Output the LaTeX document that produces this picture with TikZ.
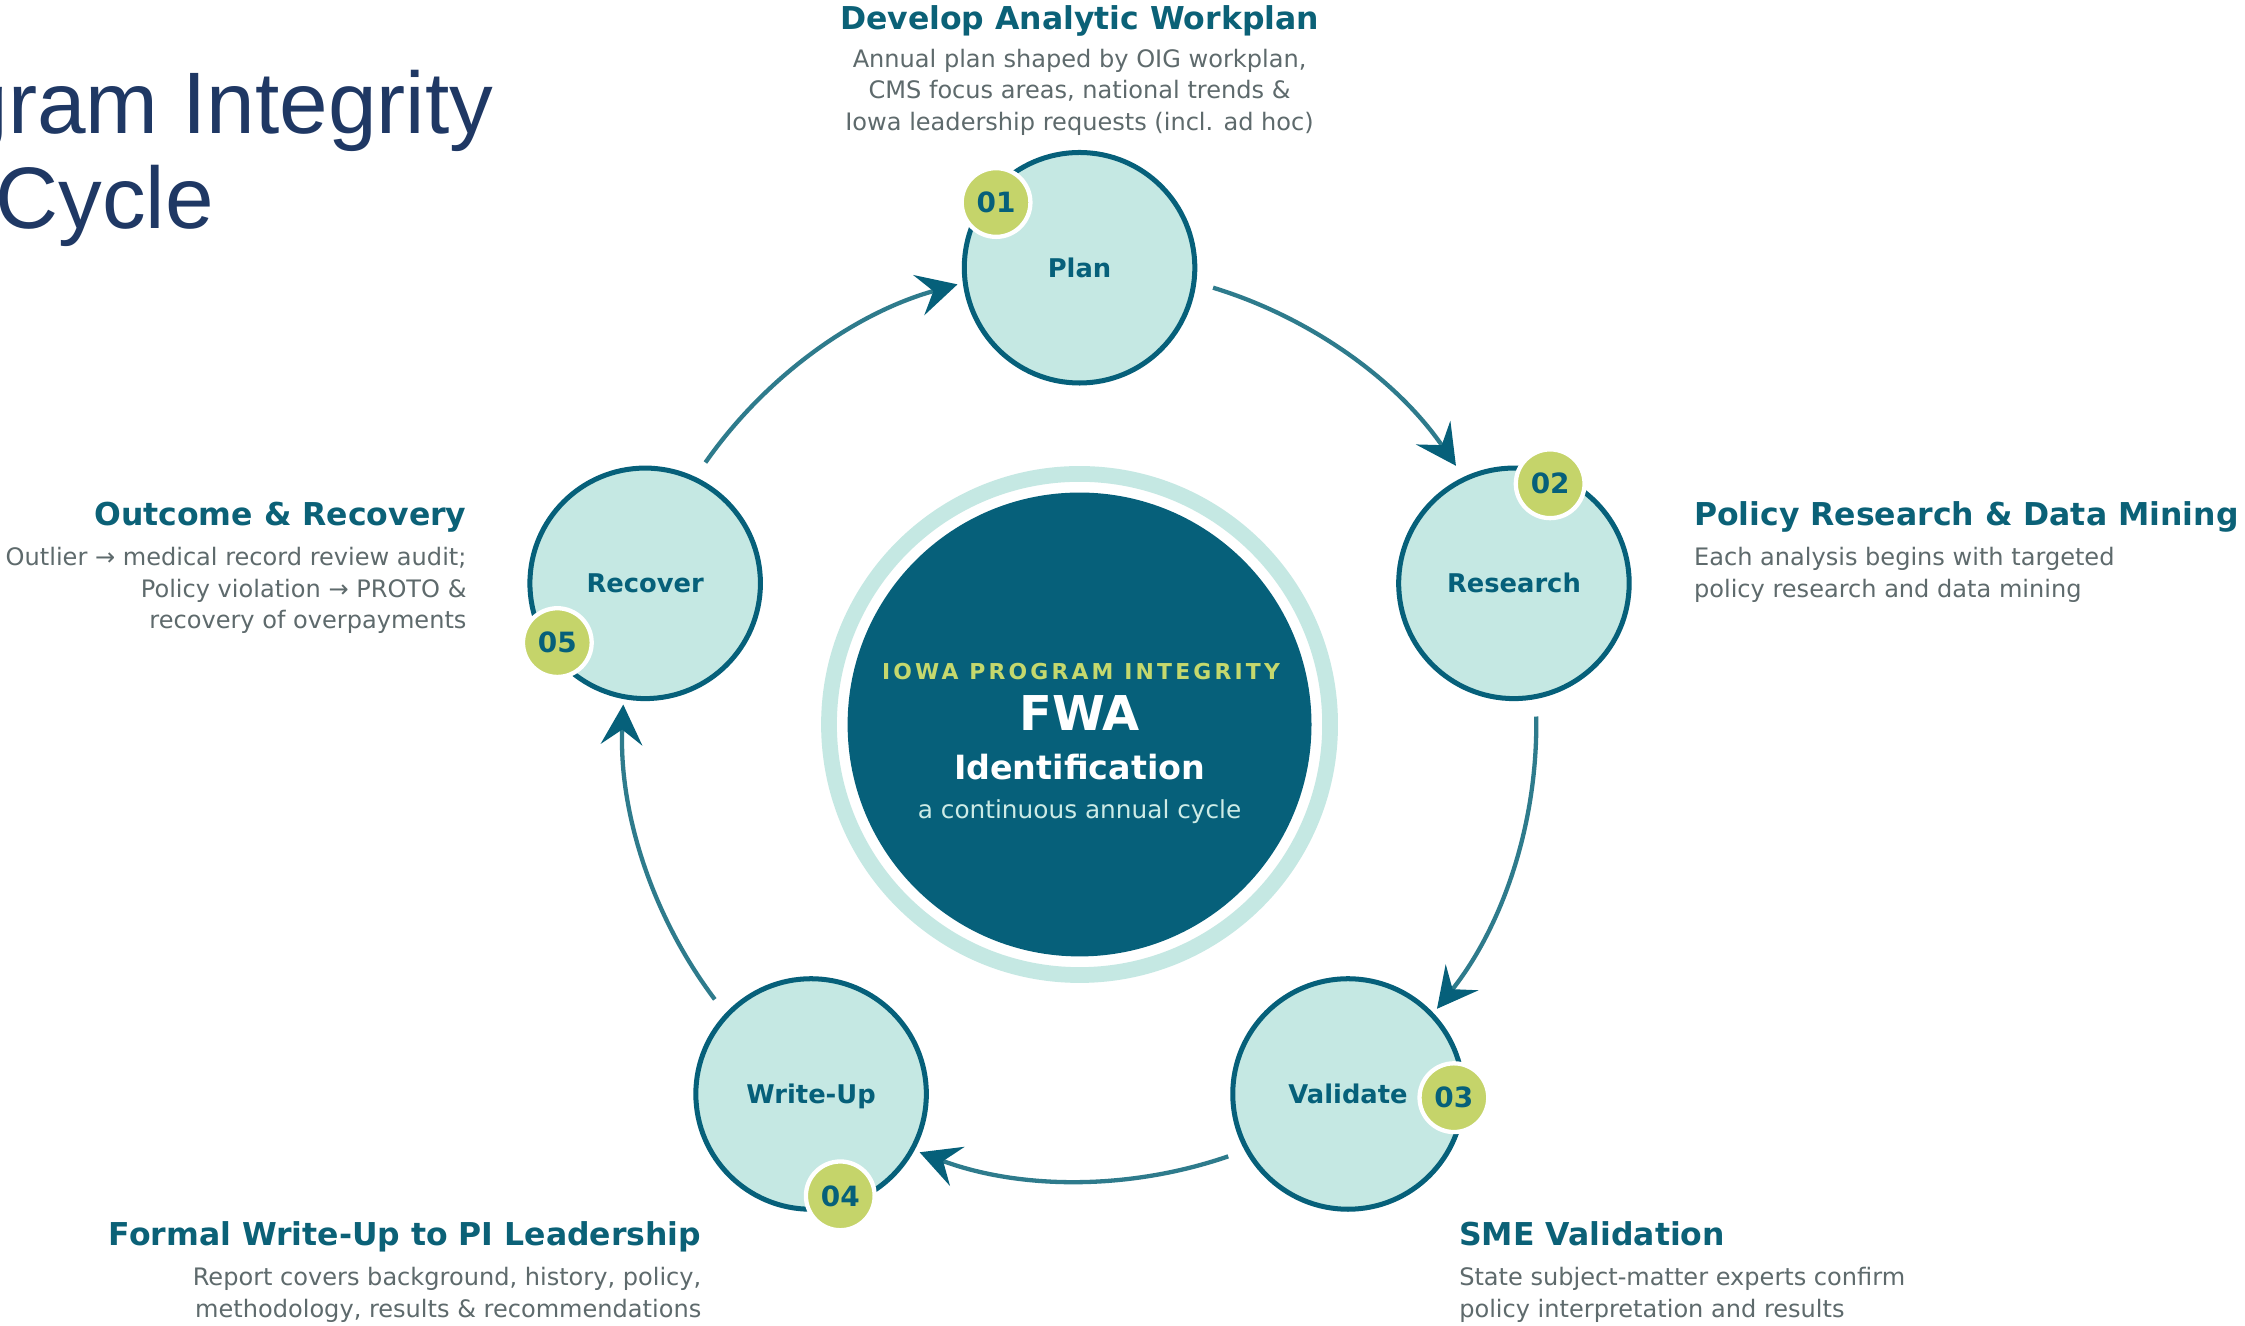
\documentclass[tikz,border=0pt]{standalone}
\usepackage{fontspec}
\setmainfont{DejaVu Sans}
\newfontfamily\titlefont{Liberation Sans}
\usetikzlibrary{arrows.meta,calc}
\definecolor{dteal}{HTML}{06607A}
\definecolor{lteal}{HTML}{C5E8E3}
\definecolor{arcc}{HTML}{2E7B8C}
\definecolor{badgec}{HTML}{C5D46A}
\definecolor{headc}{HTML}{0B6177}
\definecolor{descc}{HTML}{5E6A6C}
\definecolor{navy}{HTML}{1F3864}
\definecolor{subc}{HTML}{CDEBE6}
\definecolor{iowac}{HTML}{C5D86D}
\begin{document}
\begin{tikzpicture}[x=1pt,y=1pt,
  stage/.style={circle, draw=dteal, line width=3.5pt, fill=lteal, minimum size=161pt, inner sep=0pt, text=dteal,
    font=\bfseries\fontsize{18}{18}\selectfont, text height=13.1pt, text depth=0pt},
  badge/.style={circle, draw=white, line width=3pt, fill=badgec, minimum size=48pt, inner sep=0pt, text=dteal,
    font=\bfseries\fontsize{19.5}{19.5}\selectfont, text height=14.2pt, text depth=0pt},
  cyc/.style={draw=arcc, line width=3pt, -{Stealth[length=28pt, width=29pt, inset=10.5pt, color=dteal]}},
  head/.style={text=headc, font=\bfseries\fontsize{22}{26}\selectfont, inner sep=0pt},
  desc/.style={text=descc, font=\fontsize{16.8}{22}\selectfont, inner sep=0pt},
  ctext/.style={inner sep=0pt, anchor=base},
]
\useasboundingbox (0,0) rectangle (1568,-926);
\fill[white] (0,0) rectangle (1568,-926);

% title (cut by the left edge)
\begin{scope}
\clip (0,0) rectangle (1568,-926);
\node[anchor=base west, inner sep=0pt, text=navy, font=\titlefont\fontsize{61}{61}\selectfont] (title1) at (-28.5,-93) {gram Integrity};
\node[anchor=base west, inner sep=0pt, text=navy, font=\titlefont\fontsize{61}{61}\selectfont] (title2) at (-3.5,-159.5) {Cycle};
\end{scope}

% hub
\coordinate (O) at (754,-506);
\node[circle, draw=lteal, line width=11pt, minimum size=350pt, inner sep=0pt] (ring) at (O) {};
\node[circle, fill=dteal, minimum size=324pt, inner sep=0pt] (hub) at (O) {};
\node[ctext, text=iowac, font=\bfseries\fontsize{15.3}{15.3}\selectfont\addfontfeatures{LetterSpace=14.5}] (t1) at (755,-474.5) {IOWA PROGRAM INTEGRITY};
\node[ctext, text=white, font=\bfseries\fontsize{33.5}{33.5}\selectfont] (t2) at (754,-510) {FWA};
\node[ctext, text=white, font=\bfseries\fontsize{23.3}{23.3}\selectfont] (t3) at (754,-544.5) {Identification};
\node[ctext, text=subc, font=\fontsize{17.3}{17.3}\selectfont] (t4) at (754,-572) {a continuous annual cycle};

% cycle arcs
\coordinate (s1) at ($(O)+(73:319)$);
\coordinate (s2) at ($(O)+(1:319)$);
\coordinate (s3) at ($(O)+(-71:319)$);
\coordinate (s4) at ($(O)+(-143:319)$);
\coordinate (s5) at ($(O)+(145:319)$);
\draw[cyc] (s1) arc[start angle=73, end angle=34.5, radius=319];
\draw[cyc] (s2) arc[start angle=1, end angle=-38.5, radius=319];
\draw[cyc] (s3) arc[start angle=-71, end angle=-110.5, radius=319];
\draw[cyc] (s4) arc[start angle=-143, end angle=-182.5, radius=319];
\draw[cyc] (s5) arc[start angle=145, end angle=105.5, radius=319];

% stages
\node[stage] (plan) at ($(O)+(90:319)$) {Plan};
\node[stage] (research) at ($(O)+(18:319)$) {Research};
\node[stage] (validate) at ($(O)+(-54:319)$) {Validate};
\node[stage] (writeup) at ($(O)+(-126:319)$) {Write-Up};
\node[stage] (recover) at ($(O)+(162:319)$) {Recover};

% badges
\node[badge] (b1) at ($(plan)+(142:74)$) {01};
\node[badge] (b2) at ($(research)+(70:74)$) {02};
\node[badge] (b3) at ($(validate)+(-2:74)$) {03};
\node[badge] (b4) at ($(writeup)+(-74:74)$) {04};
\node[badge] (b5) at ($(recover)+(214:74)$) {05};

% descriptions
\node[head, anchor=base] (h1) at (754,-20.5) {Develop Analytic Workplan};
\node[desc, anchor=base, align=center] (d1) at (754,-91) {Annual plan shaped by OIG workplan,\\CMS focus areas, national trends \&\\Iowa leadership requests (incl. ad hoc)};

\node[head, anchor=base west] (h2) at (1183,-367) {Policy Research \& Data Mining};
\node[desc, anchor=base west, align=left] (d2) at (1183,-417) {Each analysis begins with targeted\\policy research and data mining};

\node[head, anchor=base west] (h3) at (1019,-870) {SME Validation};
\node[desc, anchor=base west, align=left] (d3) at (1019,-920) {State subject-matter experts confirm\\policy interpretation and results};

\node[head, anchor=base east] (h4) at (490,-870) {Formal Write-Up to PI Leadership};
\node[desc, anchor=base east, align=right] (d4) at (490,-920) {Report covers background, history, policy,\\methodology, results \& recommendations};

\node[head, anchor=base east] (h5) at (326,-367) {Outcome \& Recovery};
\node[desc, anchor=base east, align=right] (d5) at (326,-439) {Outlier → medical record review audit;\\Policy violation → PROTO \&\\recovery of overpayments};
\end{tikzpicture}
\end{document}
